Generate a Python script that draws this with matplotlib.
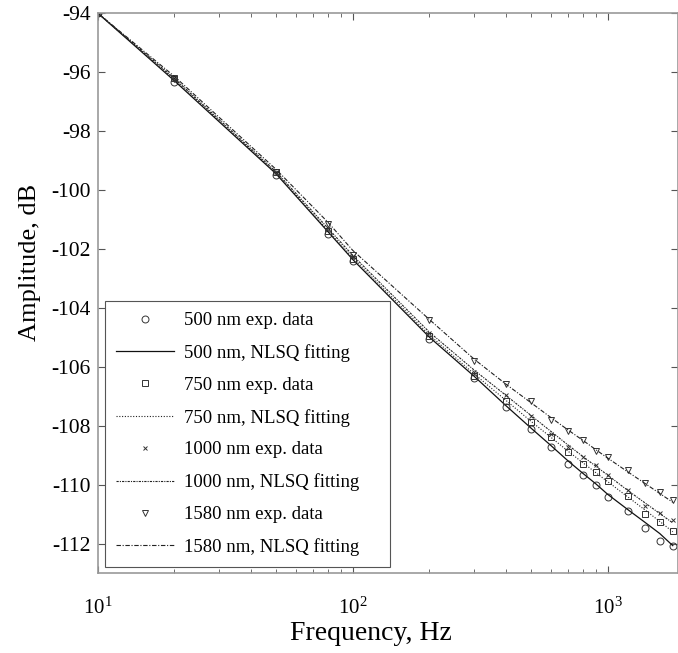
import matplotlib
matplotlib.use("Agg")
import matplotlib.pyplot as plt
from matplotlib.ticker import LogLocator, LogFormatterMathtext

plt.rcParams['font.family'] = ['Liberation Serif', 'DejaVu Serif']
plt.rcParams['mathtext.fontset'] = 'stix'
plt.rcParams['axes.unicode_minus'] = False

# frequencies, Hz
freq = [10, 20, 50, 80, 100, 200, 300, 400, 500, 600, 700, 800, 900, 1000, 1200, 1400, 1600, 1800]

# experimental amplitudes, dB
exp500 = [-94.0, -96.35, -99.5, -101.48, -102.42, -105.05, -106.37, -107.37, -108.11, -108.71,
          -109.3, -109.69, -110.0, -110.41, -110.88, -111.47, -111.9, -112.07]
exp750 = [-94.0, -96.2, -99.4, -101.4, -102.35, -104.97, -106.3, -107.18, -107.88, -108.39,
          -108.88, -109.3, -109.58, -109.89, -110.4, -110.99, -111.28, -111.56]
exp1000 = [-94.0, -96.2, -99.4, -101.3, -102.25, -104.87, -106.18, -106.97, -107.68, -108.28,
           -108.71, -109.07, -109.35, -109.67, -110.17, -110.71, -110.95, -111.2]
exp1580 = [-94.0, -96.25, -99.4, -101.15, -102.2, -104.43, -105.79, -106.58, -107.18, -107.8,
           -108.17, -108.5, -108.85, -109.07, -109.52, -109.95, -110.26, -110.52]

# NLSQ fitted amplitudes, dB
fit500 = [-94.0, -96.3, -99.45, -101.42, -102.36, -105.0, -106.33, -107.33, -108.08, -108.68,
          -109.2, -109.62, -109.98, -110.33, -110.85, -111.28, -111.66, -112.07]
fit750 = [-94.0, -96.25, -99.42, -101.38, -102.3, -104.93, -106.25, -107.15, -107.85, -108.4,
          -108.87, -109.26, -109.6, -109.9, -110.42, -110.86, -111.25, -111.6]
fit1000 = [-94.0, -96.22, -99.38, -101.3, -102.22, -104.83, -106.12, -106.98, -107.65, -108.2,
           -108.66, -109.05, -109.38, -109.68, -110.2, -110.62, -110.98, -111.3]
fit1580 = [-94.0, -96.15, -99.3, -101.1, -102.05, -104.4, -105.75, -106.6, -107.22, -107.73,
           -108.15, -108.5, -108.82, -109.1, -109.57, -109.96, -110.3, -110.6]

yticks = list(range(-112, -93, 2))

fig = plt.figure(figsize=(6.78, 6.53), dpi=100)
ax = fig.add_axes([0.1441, 0.1225, 0.8559, 0.8575])

mk = dict(linestyle='none', markerfacecolor='none', markeredgecolor='#333333', markeredgewidth=0.7)
ax.plot(freq, exp500, marker='o', markersize=5, label='500 nm exp. data', **mk)
ax.plot(freq, fit500, color='#111111', lw=0.9, linestyle='-', label='500 nm, NLSQ fitting')
ax.plot(freq, exp750, marker='s', markersize=4.5, label='750 nm exp. data', **mk)
ax.plot(freq, fit750, color='#222222', lw=0.8, linestyle=(0, (1, 1.5)), label='750 nm, NLSQ fitting')
ax.plot(freq, exp1000, marker='x', markersize=3, label='1000 nm exp. data', **mk)
ax.plot(freq, fit1000, color='#222222', lw=0.8, linestyle=(0, (2, 1, 1, 1)), label='1000 nm, NLSQ fitting')
ax.plot(freq, exp1580, marker='v', markersize=4.5, label='1580 nm exp. data', **mk)
ax.plot(freq, fit1580, color='#222222', lw=0.8, linestyle=(0, (4, 1.5, 1, 1.5)), label='1580 nm, NLSQ fitting')

ax.set_xscale('log')
ax.set_xlim(10, 1887)
ax.set_ylim(-113, -94)
ax.set_yticks(yticks)
ax.xaxis.set_major_locator(LogLocator(base=10))
ax.xaxis.set_major_formatter(LogFormatterMathtext())
ax.xaxis.set_minor_locator(LogLocator(base=10, subs=range(2, 10)))

for s in ax.spines.values():
    s.set_color('#999999')
    s.set_linewidth(1.2)
ax.tick_params(which='both', direction='in', top=True, right=True, color='#555555')
ax.tick_params(which='major', length=5, pad=5)
ax.tick_params(which='minor', length=3)
ax.tick_params(axis='y', labelsize=15.5)
ax.tick_params(axis='x', which='major', labelsize=15, pad=18)

ax.set_xlabel('Frequency, Hz', fontsize=20)
ax.set_ylabel('Amplitude, dB', fontsize=19)
ax.xaxis.set_label_coords(0.47, -0.086)
ax.yaxis.set_label_coords(-0.097, 0.554)

# legend box spans roughly 105..390 px wide, 300..567 px tall
leg = ax.legend(loc='lower left', bbox_to_anchor=(0.0126, 0.0107, 0.491, 0.477),
                mode='expand', borderaxespad=0,
                fontsize=13.5, numpoints=1, handlelength=3.1, handletextpad=0.5,
                labelspacing=0.79, fancybox=False, framealpha=1, edgecolor='#555555',
                borderpad=0.6)
leg.get_frame().set_linewidth(0.8)

fig.savefig('out.png', dpi=100)
